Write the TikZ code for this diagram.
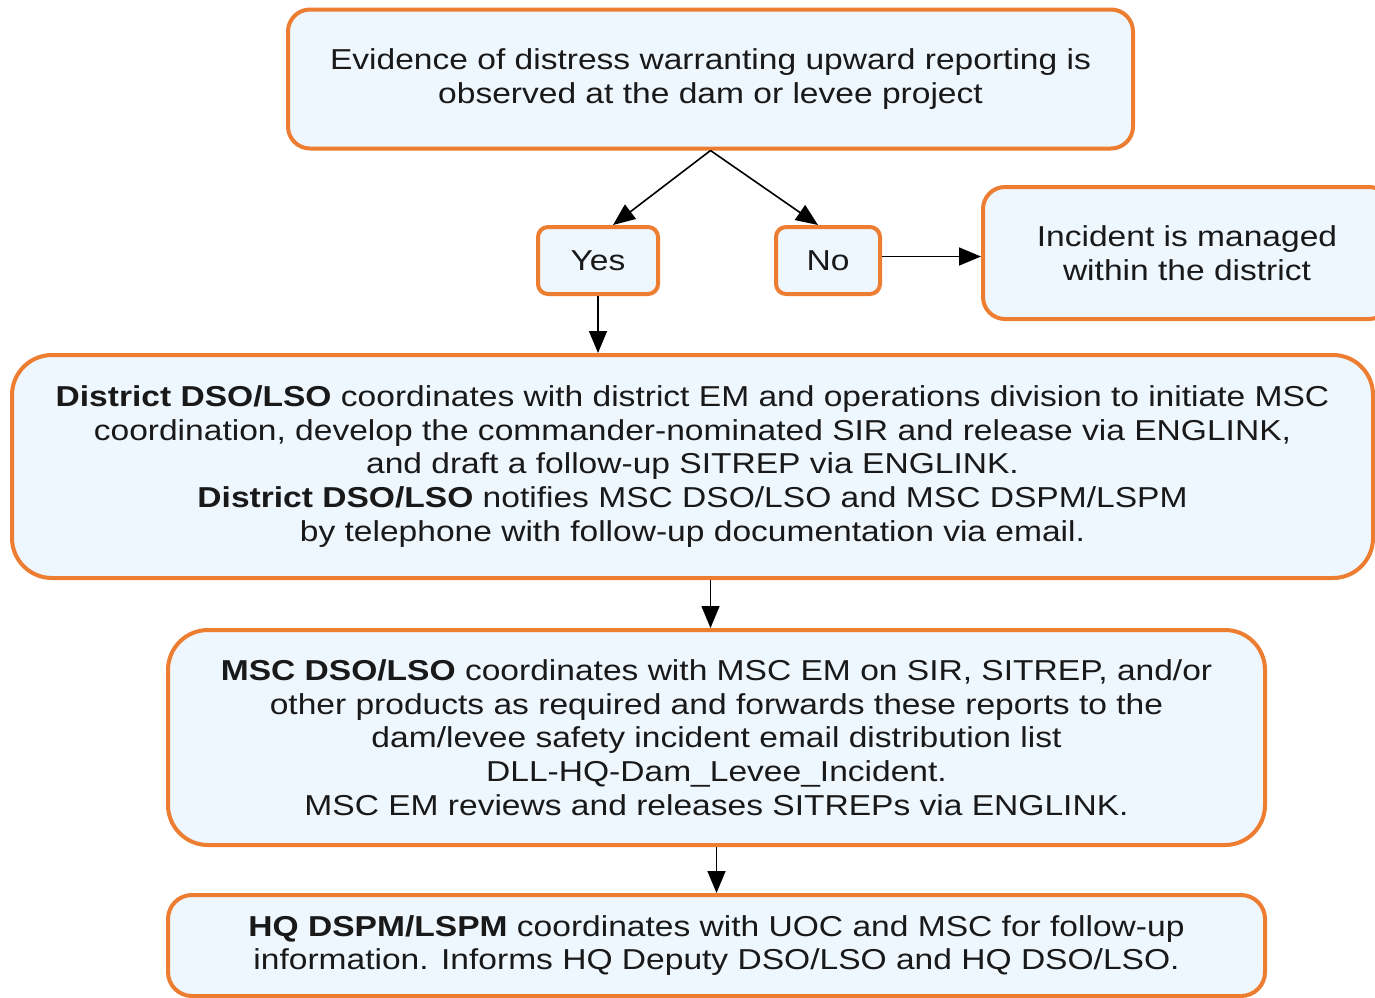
\documentclass[tikz,border=0pt]{standalone}
\usepackage{fontspec}
\setmainfont{Liberation Sans}[FakeStretch=1.165]
\usetikzlibrary{arrows.meta}
\definecolor{boxline}{RGB}{237,125,49}
\definecolor{boxfill}{RGB}{238,246,254}

\begin{document}
\begin{tikzpicture}[x=0.5pt,y=-0.5pt,
    box/.style={draw=boxline,fill=boxfill,line width=2pt,rounded corners=11pt,
      align=center,inner sep=0pt,text=black!90,font=\fontsize{14.4}{16.8}\selectfont},
    arr/.style={-{Triangle[length=11pt,width=9pt]},line width=0.8pt}]
    \useasboundingbox (0,0) rectangle (1375,997);
    \node[box,minimum width=422.5pt,minimum height=69.5pt] (top) at (710.5,79)
      {Evidence of distress warranting upward reporting is\\ observed at the dam or levee project};
    \node[box,rounded corners=5pt,minimum width=60pt,minimum height=33.5pt] (yes) at (598,260.5) {Yes};
    \node[box,rounded corners=5pt,minimum width=52pt,minimum height=33.5pt] (no) at (828,260.5) {No};
    \node[box,minimum width=204pt,minimum height=66pt] (incident) at (1187,253)
      {Incident is managed\\ within the district};
    \node[box,rounded corners=20pt,minimum width=680.5pt,minimum height=111.5pt] (district) at (692.5,466.5)
      {\textbf{District DSO/LSO} coordinates with district EM and operations division to initiate MSC\\
       coordination, develop the commander-nominated SIR and release via ENGLINK,\\
       and draft a follow-up SITREP via ENGLINK.\\
       \textbf{District DSO/LSO} notifies MSC DSO/LSO and MSC DSPM/LSPM\\
       by telephone with follow-up documentation via email.};
    \node[box,rounded corners=20pt,minimum width=548.5pt,minimum height=107.5pt] (msc) at (716.5,737.5)
      {\textbf{MSC DSO/LSO} coordinates with MSC EM on SIR, SITREP, and/or\\
       other products as required and forwards these reports to the\\
       dam/levee safety incident email distribution list\\
       DLL-HQ-Dam\_Levee\_Incident.\\
       MSC EM reviews and releases SITREPs via ENGLINK.};
    \node[box,rounded corners=12pt,minimum width=548.5pt,minimum height=50.5pt] (hq) at (716.5,945.5)
      {\textbf{HQ DSPM/LSPM} coordinates with UOC and MSC for follow-up\\
       information. Informs HQ Deputy DSO/LSO and HQ DSO/LSO.};
    % connectors
    \draw[arr] (top.south) -- ([xshift=7.5pt]yes.north);
    \draw[arr] (top.south) -- ([xshift=-5pt]no.north);
    \draw[arr] ([yshift=2pt]no.east) -- ([yshift=2pt]no.east -| incident.west);
    \draw[arr] (yes.south) -- (yes.south |- district.north);
    \draw[arr] (district.south -| top.south) -- (msc.north -| top.south);
    \draw[arr] (msc.south) -- (hq.north);
\end{tikzpicture}
\end{document}
